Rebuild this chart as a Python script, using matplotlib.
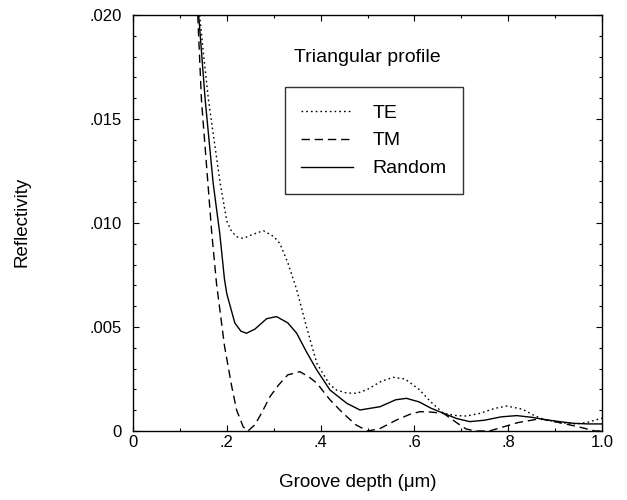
import matplotlib
matplotlib.use("Agg")
import matplotlib.pyplot as plt
from matplotlib.ticker import MultipleLocator

plt.rcParams['font.family'] = ['Liberation Sans', 'DejaVu Sans']

te_x = [0.142, 0.150, 0.161, 0.171, 0.186, 0.200, 0.210, 0.221, 0.235, 0.255, 0.278,
        0.300, 0.313, 0.330, 0.349, 0.370, 0.392, 0.420, 0.434, 0.455, 0.477, 0.500,
        0.530, 0.555, 0.580, 0.610, 0.635, 0.662, 0.690, 0.711, 0.740, 0.770, 0.797,
        0.830, 0.855, 0.875, 0.910, 0.946, 0.970, 1.000]
te_y = [0.0200, 0.0182, 0.0159, 0.0143, 0.0119, 0.0101, 0.0096, 0.00934, 0.00926, 0.00945, 0.00963,
        0.00935, 0.00902, 0.0081, 0.0068, 0.0050, 0.00325, 0.00221, 0.00197, 0.00183, 0.00181, 0.0020,
        0.0024, 0.00258, 0.0025, 0.0020, 0.0014, 0.00085, 0.00074, 0.00072, 0.00085, 0.00108, 0.00120,
        0.00105, 0.00075, 0.00056, 0.00040, 0.00034, 0.00042, 0.00062]

tm_x = [0.138, 0.146, 0.157, 0.168, 0.178, 0.195, 0.210, 0.221, 0.235, 0.245, 0.260,
        0.275, 0.292, 0.310, 0.330, 0.356, 0.375, 0.392, 0.420, 0.448, 0.475, 0.500,
        0.525, 0.562, 0.590, 0.612, 0.630, 0.662, 0.690, 0.710, 0.730, 0.760, 0.790,
        0.820, 0.860, 0.875, 0.910, 0.950, 0.985, 1.000]
tm_y = [0.0200, 0.0159, 0.0127, 0.0095, 0.0071, 0.0041, 0.0022, 0.0010, 0.0002, 0.0000, 0.0003,
        0.0009, 0.00165, 0.0022, 0.0027, 0.00285, 0.0026, 0.0023, 0.0015, 0.00085, 0.0003, 0.0000,
        0.0001, 0.00053, 0.0008, 0.00093, 0.00092, 0.00085, 0.0004, 0.0001, 0.0000, 0.0000, 0.0002,
        0.0004, 0.00056, 0.00056, 0.0004, 0.0002, 0.0000, 0.0000]

rnd_x = [0.140, 0.154, 0.171, 0.185, 0.195, 0.200, 0.217, 0.230, 0.242, 0.260, 0.285,
         0.306, 0.330, 0.349, 0.370, 0.392, 0.420, 0.456, 0.484, 0.527, 0.560, 0.583,
         0.610, 0.635, 0.662, 0.690, 0.718, 0.750, 0.785, 0.818, 0.850, 0.875, 0.910,
         0.939, 0.970, 1.000]
rnd_y = [0.0200, 0.0159, 0.0119, 0.0095, 0.0073, 0.0066, 0.0052, 0.0048, 0.0047, 0.0049, 0.0054,
         0.0055, 0.0052, 0.0047, 0.0038, 0.00293, 0.00197, 0.00133, 0.00101, 0.00117, 0.0015, 0.00157,
         0.0014, 0.0011, 0.00085, 0.0006, 0.00045, 0.00052, 0.00068, 0.00074, 0.00066, 0.00056, 0.00045,
         0.00037, 0.00034, 0.00034]

x_ticks = [0, 0.2, 0.4, 0.6, 0.8, 1.0]
x_labels = ["0", ".2", ".4", ".6", ".8", "1.0"]
y_ticks = [0, 0.005, 0.010, 0.015, 0.020]
y_labels = ["0", ".005", ".010", ".015", ".020"]

fig = plt.figure(figsize=(6.27, 5.0), dpi=100)
ax = fig.add_axes([133/627, 69/500, 469/627, 416/500])

ax.plot(te_x, te_y, color='black', lw=1.0, linestyle=(0, (1.2, 2.2)), label='TE')
ax.plot(tm_x, tm_y, color='black', lw=1.0, linestyle=(0, (6, 3.5)), label='TM')
ax.plot(rnd_x, rnd_y, color='black', lw=1.0, linestyle='-', label='Random')

ax.set_xlim(0, 1.0)
ax.set_ylim(0, 0.020)
ax.set_xticks(x_ticks)
ax.set_xticklabels(x_labels)
ax.set_yticks(y_ticks)
ax.set_yticklabels(y_labels)
ax.xaxis.set_minor_locator(MultipleLocator(0.1))
ax.yaxis.set_minor_locator(MultipleLocator(0.001))
ax.tick_params(which='both', direction='in', top=True, right=True, width=0.8, labelsize=12)
ax.tick_params(which='major', length=4)
ax.tick_params(which='minor', length=2.5)
ax.tick_params(axis='x', pad=3)
ax.tick_params(axis='y', pad=8)
for s in ax.spines.values():
    s.set_linewidth(1.0)

ax.set_xlabel('Groove depth (\u03bcm)', fontsize=13.5)
ax.xaxis.set_label_coords(0.48, -0.103)
ax.set_ylabel('Reflectivity', fontsize=13.5)
ax.yaxis.set_label_coords(-0.218, 0.502)

ax.text(0.499, 0.897, 'Triangular profile', transform=ax.transAxes,
        ha='center', va='center', fontsize=14)

leg = ax.legend(loc='upper left', bbox_to_anchor=(0.324, 0.826), fontsize=14,
                frameon=True, fancybox=False, handlelength=2.63, handletextpad=1.03,
                labelspacing=0.53, borderpad=0.85, borderaxespad=0)
leg.get_frame().set_edgecolor('black')
leg.get_frame().set_linewidth(1.0)

fig.savefig('out.png', dpi=100)
